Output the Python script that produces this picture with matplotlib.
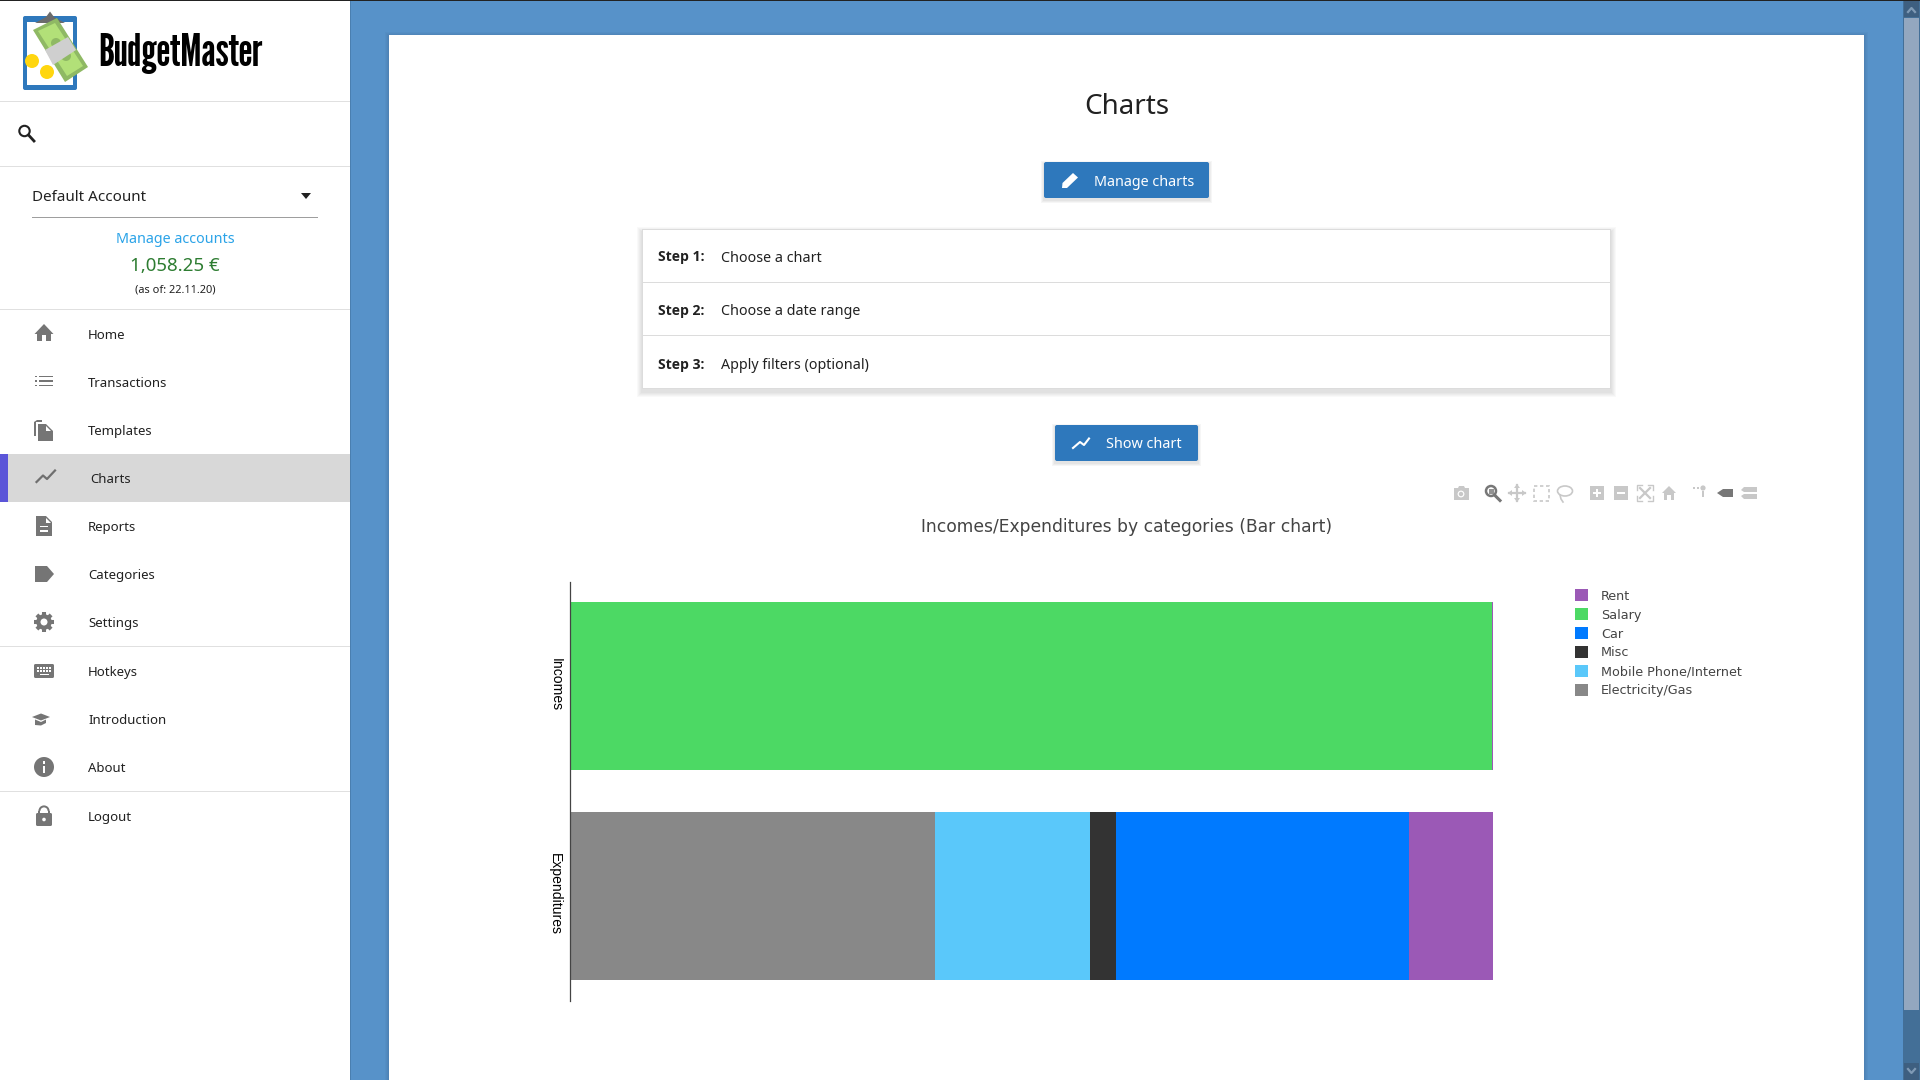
import matplotlib
matplotlib.use("Agg")
import matplotlib.pyplot as plt
from matplotlib.patches import Rectangle, Polygon, Circle, FancyBboxPatch, Wedge, Ellipse
from matplotlib.transforms import ScaledTranslation

# ---------- chart data ----------
categories = ["Incomes", "Expenditures"]
series_names = ["Electricity/Gas", "Mobile Phone/Internet", "Misc", "Car", "Salary", "Rent"]
electricity = [0, 39.5]
mobile = [0, 16.8]
misc = [0, 2.8]
car = [0, 31.8]
salary = [99.85, 0]
rent = [0.15, 9.1]
series_colors = ["#888888", "#5AC8FA", "#333333", "#007AFF", "#4CD964", "#9B59B6"]
legend_order = ["Rent", "Salary", "Car", "Misc", "Mobile Phone/Internet", "Electricity/Gas"]
chart_title = "Incomes/Expenditures by categories (Bar chart)"

# ---------- page text ----------
nav_labels = ["Home", "Transactions", "Templates", "Charts", "Reports", "Categories",
              "Settings", "Hotkeys", "Introduction", "About", "Logout"]
step_heads = ["Step 1:", "Step 2:", "Step 3:"]
step_texts = ["Choose a chart", "Choose a date range", "Apply filters (optional)"]

UI = "Noto Sans"
W, H = 1920, 1080
fig = plt.figure(figsize=(W / 100, H / 100), dpi=100, facecolor="#ffffff")
ui = fig.add_axes([0, 0, 1, 1], zorder=0)
ui.set_xlim(0, W)
ui.set_ylim(H, 0)
ui.axis("off")

def px(v):
    return v * 0.72

def box(x0, y0, x1, y1, c, a=1.0, z=1):
    ui.add_patch(Rectangle((x0, y0), x1 - x0, y1 - y0, fc=c, ec="none", alpha=a, zorder=z))

def poly(pts, c, z=5, **k):
    ui.add_patch(Polygon(pts, closed=True, fc=c, ec="none", zorder=z, **k))

def txt(x, y, s, size, c="#212121", ha="left", family=UI, weight="normal", z=6):
    ui.text(x, y, s, fontsize=px(size), color=c, ha=ha, va="center_baseline", family=family,
            weight=weight, zorder=z)

def shadow(x0, y0, x1, y1, spread=6, dy=2, a=0.045, c="#000000", z=2):
    for i in range(spread, 0, -1):
        box(x0 - i, y0 - i + dy, x1 + i, y1 + i + dy, c, a, z)

# ---------- page background ----------
BLUE = "#5792C9"
box(0, 0, W, H, "#ffffff", z=0)
box(350, 0, 1904, H, BLUE, z=0.5)
box(350, 0, 351, H, "#4a7fb0", z=1)
box(0, 0, W, 1, "#222222", z=8)
shadow(389, 35, 1864, H + 20, spread=4, dy=1, a=0.022)
box(389, 35, 1864, H + 10, "#ffffff", z=3)

# scrollbar
box(1903, 0, 1920, H, "#436F97", z=6)
box(1904, 18, 1919, 1010, "#93A7BF", z=7)
box(1904, 1, 1919, 17, "#3E5F80", z=7)
box(1904, 1063, 1919, 1080, "#3E5F80", z=7)
ui.plot([1908, 1911.5, 1915], [12, 8, 12], color="#7f9ab5", lw=1.6, zorder=8)
ui.plot([1908, 1911.5, 1915], [1069, 1073, 1069], color="#7f9ab5", lw=1.6, zorder=8)

# ---------- sidebar ----------
for y in (101, 166, 309, 646, 791):
    box(0, y, 350, y + 1.3, "#e0e0e0", z=2)
box(8, 454, 350, 502, "#d8d8d8", z=2)
box(0, 454, 8, 502, "#5B55D8", z=2)

# logo
clip = FancyBboxPatch((23, 16), 54, 74, boxstyle="round,pad=0,rounding_size=2", fc="#2E78BC", ec="none", zorder=3)
ui.add_patch(clip)
box(27, 22, 73, 85, "#ffffff", z=3.5)
poly([(35, 23), (46, 17), (50, 11.5), (54, 17), (65, 23)], "#6b6b6b", z=4)
poly([(33, 30), (57, 18), (88, 67), (65, 82)], "#8FB964", z=4.2)
poly([(38, 31), (55, 23), (83, 66), (67, 76)], "#B2E078", z=4.3)
ui.add_patch(Circle((56, 43), 5, fc="#8FB964", ec="none", zorder=4.4))
ui.add_patch(Circle((66, 56), 5, fc="#8FB964", ec="none", zorder=4.4))
poly([(45, 50), (68, 37), (76, 50), (53, 65)], "#CFCFCF", z=4.5)
ui.add_patch(Circle((32, 61), 7, fc="#FFD60F", ec="none", zorder=4.6))
ui.add_patch(Circle((47, 72), 7, fc="#FFD60F", ec="none", zorder=4.6))
ui.text(98, 66, "BudgetMaster", fontsize=px(44), family=["League Gothic", "Antonio", "Oswald", "Anton"],
        color="#000000", ha="left", va="baseline", zorder=6)

# search
ui.add_patch(Circle((24.5, 131), 5.2, fc="none", ec="#212121", lw=1.5, zorder=5))
ui.plot([28.5, 34], [135, 141], color="#212121", lw=2, zorder=5)

# account box
txt(32, 195.5, "Default Account", 15.2)
poly([(301, 193), (311, 193), (306, 199)], "#212121")
box(32, 217, 318, 218.2, "#9e9e9e", z=4)
txt(175, 237.6, "Manage accounts", 14.3, c="#2AA3E8", ha="center")
txt(175, 264, "1,058.25 €", 18.7, c="#2E7D32", ha="center")
txt(175, 289, "(as of: 22.11.20)", 11, ha="center")

nav_y = [333.9, 381.9, 429.9, 477.9, 525.9, 573.9, 621.9, 671, 719, 767, 815.9]
for label, y in zip(nav_labels, nav_y):
    txt(90 if label == "Charts" else 88, y, label, 13.2)

ICON = "#757575"
# home
poly([(44, 324), (34.5, 334), (37, 334), (37, 341), (42, 341), (42, 335), (46, 335), (46, 341), (51, 341), (51, 334), (53.5, 334)], ICON)
# list
for yy in (376.5, 381, 385.5):
    box(35, yy - .9, 37, yy + .9, ICON, z=5)
    box(39, yy - .9, 53, yy + .9, ICON, z=5)
# templates
poly([(37, 420), (42, 420), (42, 422), (36, 422), (36, 436), (34, 436), (34, 422)], ICON)
poly([(38, 424), (46, 424), (53, 431), (53, 441), (50, 441), (38, 441)], ICON)
poly([(46, 425.5), (46, 430.5), (51, 430.5)], "#ffffff", z=5.5)
# charts
ui.plot([36.5, 43, 47, 55], [482, 475.5, 479, 470.5], color="#6f6f6f", lw=1.6, zorder=5)
# reports
poly([(36, 516), (46, 516), (52, 522), (52, 536), (36, 536)], ICON)
poly([(46, 517.5), (46, 522.5), (51, 522.5)], "#ffffff", z=5.5)
box(40, 525.5, 48, 527.3, "#ffffff", z=5.5)
box(40, 530, 48, 531.8, "#ffffff", z=5.5)
# tag
poly([(35, 566), (47, 566), (54, 574), (47, 582), (35, 582)], ICON)
# gear
for dx, dy in ((10, 0), (7.1, 7.1), (0, 10), (-7.1, 7.1)):
    ui.plot([44 - dx, 44 + dx], [622 - dy, 622 + dy], color=ICON, lw=2.9, zorder=5, solid_capstyle="butt")
ui.add_patch(Circle((44, 622), 7.8, fc=ICON, ec="none", zorder=5.2))
ui.add_patch(Circle((44, 622), 3.5, fc="#ffffff", ec="none", zorder=5.5))
# keyboard
kb = FancyBboxPatch((34, 664), 20, 14, boxstyle="round,pad=0,rounding_size=1.5", fc=ICON, ec="none", zorder=5)
ui.add_patch(kb)
for yy in (667, 670):
    for xx in range(37, 52, 3):
        box(xx, yy, xx + 1.7, yy + 1.7, "#ffffff", z=5.5)
box(40, 673.5, 49, 675, "#ffffff", z=5.5)
# graduation cap
poly([(32, 717), (41, 713.5), (50, 717), (41, 720.5)], ICON)
poly([(35, 719.5), (41, 722), (46, 719.5), (46, 723), (41, 725.5), (35, 725)], ICON)
# about
ui.add_patch(Circle((44, 767), 10, fc=ICON, ec="none", zorder=5))
box(42.8, 765.5, 45.2, 773, "#ffffff", z=5.5)
box(42.8, 761, 45.2, 763.6, "#ffffff", z=5.5)
# lock
ui.add_patch(Wedge((44, 811), 5.6, 180, 360, width=2, fc=ICON, ec="none", zorder=5))
box(38.4, 811, 40.4, 815, ICON, z=5)
box(47.6, 811, 49.6, 815, ICON, z=5)
lock = FancyBboxPatch((36, 813), 16, 13, boxstyle="round,pad=0,rounding_size=1.5", fc=ICON, ec="none", zorder=5)
ui.add_patch(lock)
ui.add_patch(Circle((44, 819.5), 1.8, fc="#ffffff", ec="none", zorder=5.5))

# ---------- main header ----------
txt(1127, 103, "Charts", 27.8, ha="center")
BTN = "#2E78BC"
for (x0, y0, x1, y1) in ((1044, 162, 1209, 198), (1055, 425, 1198, 461)):
    shadow(x0, y0, x1, y1, spread=3, dy=2, a=0.035, z=3.2)
    ui.add_patch(FancyBboxPatch((x0, y0), x1 - x0, y1 - y0, boxstyle="round,pad=0,rounding_size=2",
                                fc=BTN, ec="none", zorder=4))
txt(1094, 181, "Manage charts", 14.3, c="#ffffff")
txt(1106, 443, "Show chart", 14.4, c="#ffffff")
# pencil
poly([(1062, 188), (1062.5, 183), (1073, 173), (1078, 177.5), (1067, 188)], "#ffffff")
# chart glyph on the button
ui.plot([1073, 1080, 1084, 1089], [448, 442, 445, 438.5], color="#ffffff", lw=1.5, zorder=6)

# ---------- steps card ----------
shadow(642, 229, 1611, 389, spread=5, dy=3, a=0.022, z=3.2)
box(642, 229, 1611, 389, "#dcdcdc", z=3.4)
box(643, 230, 1610, 388, "#ffffff", z=3.5)
for y in (282, 335):
    box(643, y, 1610, y + 1.2, "#dcdcdc", z=4)
for y, head, body in zip((256, 309.5, 363.5), step_heads, step_texts):
    txt(658, y, head, 14.0, weight="bold", family="Open Sans")
    txt(721, y, body, 14.25)

# ---------- plotly mode bar ----------
MB = "#C8C8C8"
MBA = "#777777"
y = 493
# camera
poly([(1454, 488), (1458, 488), (1459, 486), (1464, 486), (1465, 488), (1469, 488), (1469, 500), (1454, 500)], MB)
ui.add_patch(Circle((1461, 494), 3.4, fc="#ffffff", ec="none", zorder=5.5))
ui.add_patch(Circle((1461, 494), 2.2, fc=MB, ec="none", zorder=5.6))
# zoom (active)
ui.add_patch(Circle((1491, 491), 5, fc="#ffffff", ec=MBA, lw=1.8, zorder=5))
box(1488.5, 488.5, 1493.5, 493.5, MBA, a=.8, z=5.5)
ui.plot([1495, 1500], [495.5, 500.5], color=MBA, lw=2.2, zorder=5)
# pan
ui.plot([1509, 1525], [y, y], color=MB, lw=1.6, zorder=5)
ui.plot([1517, 1517], [485, 501], color=MB, lw=1.6, zorder=5)
poly([(1517, 484), (1514, 488), (1520, 488)], MB)
poly([(1517, 502), (1514, 498), (1520, 498)], MB)
poly([(1508, y), (1512, y - 3), (1512, y + 3)], MB)
poly([(1526, y), (1522, y - 3), (1522, y + 3)], MB)
# box select
ui.add_patch(Rectangle((1534, 486), 15, 15, fc="none", ec=MB, lw=1.2, ls=(0, (2, 1.6)), zorder=5))
# lasso
ui.add_patch(Ellipse((1565, 491), 15, 10, fc="none", ec=MB, lw=1.2, zorder=5))
ui.plot([1560, 1561, 1563], [495, 499, 502], color=MB, lw=1.2, zorder=5)
# zoom in / out
box(1590, 486, 1604, 500, MB, z=5)
box(1593, 492.2, 1601, 493.8, "#ffffff", z=5.5)
box(1596.2, 489, 1597.8, 497, "#ffffff", z=5.5)
box(1614, 486, 1628, 500, MB, z=5)
box(1617, 492.2, 1625, 493.8, "#ffffff", z=5.5)
# autoscale
for cx, cy, dx, dy in ((1637, 485, 1, 1), (1653, 485, -1, 1), (1637, 501, 1, -1), (1653, 501, -1, -1)):
    ui.plot([cx + 5 * dx, cx, cx], [cy, cy, cy + 5 * dy], color=MB, lw=1.0, zorder=5)
ui.plot([1640, 1650], [488, 498], color=MB, lw=1.6, zorder=5)
ui.plot([1640, 1650], [498, 488], color=MB, lw=1.6, zorder=5)
# home
poly([(1669, 486), (1662, 493), (1664, 493), (1664, 500), (1667, 500), (1667, 495), (1671, 495), (1671, 500), (1674, 500), (1674, 493), (1676, 493)], MB)
# spikes
box(1693, 487, 1695, 489, MB, z=5)
box(1697, 487, 1699, 489, MB, z=5)
ui.add_patch(Circle((1703, 488), 2.6, fc=MB, ec="none", zorder=5))
box(1702, 491, 1704, 497, MB, z=5)
# closest / compare hover
poly([(1717, 493), (1723, 489), (1733, 489), (1733, 497), (1723, 497)], MBA)
poly([(1741, 490), (1744, 487), (1757, 487), (1757, 492), (1744, 492)], MB)
poly([(1741, 496), (1744, 494), (1757, 494), (1757, 499), (1744, 499)], MB)

# ---------- chart title ----------
txt(1127, 525, chart_title, 17.1, c="#444444", ha="center", family="DejaVu Sans")

# ---------- the chart itself ----------
ax = fig.add_axes([570.2 / W, 1 - 1000.5 / H, 923 / W, 419 / H], zorder=5)
ax.patch.set_alpha(0)
values = [electricity, mobile, misc, car, salary, rent]
positions = list(range(len(categories)))
left = [0.0] * len(categories)
handles = {}
for name, vals, col in zip(series_names, values, series_colors):
    bars = ax.barh(positions, vals, left=left, height=0.8, color=col, linewidth=0, label=name)
    handles[name] = bars
    left = [a + b for a, b in zip(left, vals)]
ax.set_xlim(0, 100)
ax.set_ylim(1.5, -0.5)
ax.set_yticks(positions)
ax.set_yticklabels(categories, rotation=-90, va="center", ha="center", family="Liberation Sans",
                   fontsize=px(14), color="#000000")
ax.tick_params(axis="y", length=0, pad=10.7)
offset = ScaledTranslation(0, 2 / 100, fig.dpi_scale_trans)
for lab in ax.get_yticklabels():
    lab.set_transform(lab.get_transform() + offset)
ax.xaxis.set_visible(False)
for s in ("top", "right", "bottom"):
    ax.spines[s].set_visible(False)
ax.spines["left"].set_color("#444444")
ax.spines["left"].set_linewidth(0.9)

fs = px(12.8)
leg = ax.legend([handles[n] for n in legend_order], legend_order, loc="upper left",
                bbox_to_anchor=(1575 / W, 1 - 589.5 / H), bbox_transform=fig.transFigure,
                frameon=False, fontsize=fs, labelcolor="#444444",
                handlelength=13 * 0.72 / fs, handleheight=13 * 0.72 / fs,
                handletextpad=13 * 0.72 / fs, labelspacing=0.45, borderpad=0, borderaxespad=0,
                prop={"family": "DejaVu Sans", "size": fs})

fig.savefig("out.png", dpi=100, facecolor=fig.get_facecolor())
